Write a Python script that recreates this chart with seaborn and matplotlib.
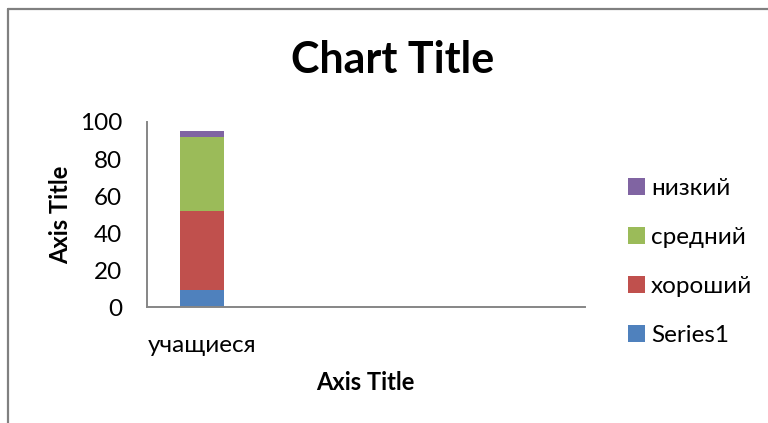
import matplotlib
matplotlib.use("Agg")
import matplotlib.pyplot as plt
import seaborn as sns
import pandas as pd
import numpy as np
from matplotlib.patches import Patch
from matplotlib.lines import Line2D

categories = ["учащиеся"]
series_names = ["Series1", "хороший", "средний", "низкий"]
series1 = [9]
good = [43]
medium = [40]
low = [3]
colors = ["#4F81BD", "#C0504D", "#9BBB59", "#8064A2"]
yticks = [0, 20, 40, 60, 80, 100]

sns.set_theme(style="white")
plt.rcParams["font.family"] = ["Lato", "Open Sans", "DejaVu Sans"]
plt.rcParams["text.color"] = "black"
plt.rcParams["xtick.color"] = "black"
plt.rcParams["ytick.color"] = "black"

fig = plt.figure(figsize=(7.68, 4.23), dpi=100)
ax = fig.add_axes([147/768, 1-307/423, (585-147)/768, (307-122)/423])

values = [series1, good, medium, low]
cum = np.cumsum(np.array(values), axis=0)
# draw from top of stack down so lower layers overlay
for i in range(len(series_names)-1, -1, -1):
    df = pd.DataFrame({"cat": categories, "val": cum[i]})
    sns.barplot(data=df, x="cat", y="val", color=colors[i], width=0.4,
                saturation=1, ax=ax, order=categories, linewidth=0,
                edgecolor="none")

ax.set_xlim(-0.5, 3.5)
ax.set_ylim(0, 100)
ax.set_yticks(yticks)
ax.set_yticklabels([str(t) for t in yticks])
ax.tick_params(axis="both", length=0, labelsize=17.5, labelcolor="black")
ax.tick_params(axis="x", pad=20)
ax.tick_params(axis="y", pad=18)

for s in ["top", "right"]:
    ax.spines[s].set_visible(False)
for s in ["left", "bottom"]:
    ax.spines[s].set_color("#868686")
    ax.spines[s].set_linewidth(1.4)

ax.set_xlabel("")
ax.set_ylabel("")
fig.text(365/768, 1-382/423, "Axis Title", ha="center", va="center",
         fontsize=17, fontweight="bold", color="black")
fig.text(61/768, 1-215/423, "Axis Title", ha="center", va="center",
         fontsize=17, fontweight="bold", rotation=90, color="black")
fig.text(393/768, 1-60/423, "Chart Title", ha="center", va="center",
         fontsize=31, fontweight="bold", color="black")

handles = [Patch(facecolor=colors[i], edgecolor="none") for i in range(3, -1, -1)]
labels = [series_names[i] for i in range(3, -1, -1)]
fig.legend(handles, labels, loc="center left", bbox_to_anchor=(606/768, 1-262/423),
           frameon=False, fontsize=17.5, handlelength=0.7, handleheight=0.7,
           handletextpad=0.25, labelspacing=1.15, labelcolor="black")

fig.add_artist(Line2D([8/768, 8/768], [0, 1-9.5/423], transform=fig.transFigure,
                      color="#808080", lw=1.6))
fig.add_artist(Line2D([8/768, 1], [1-9.5/423, 1-9.5/423], transform=fig.transFigure,
                      color="#808080", lw=1.6))

fig.savefig("out.png", dpi=100, facecolor="white")
